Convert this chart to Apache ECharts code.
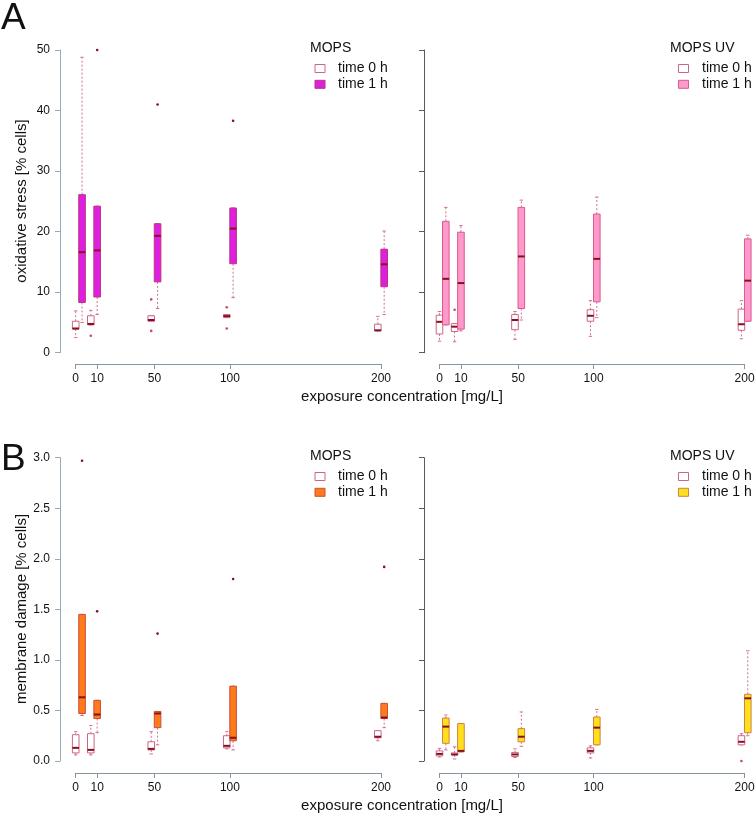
<!DOCTYPE html>
<html><head><meta charset="utf-8">
<script src="https://cdn.jsdelivr.net/npm/echarts@6/dist/echarts.min.js"></script>
<style>html,body{margin:0;padding:0;background:#fff}#c{width:756px;height:815px}</style>
</head><body><div id="c"></div><script>
// ---------- data ----------
const conc = [0, 10, 50, 100, 200];
const xTickLabels = ['0', '10', '50', '100', '200'];
// box stats: [lower whisker, Q1, median, Q3, upper whisker]
// A: oxidative stress [% cells]
const osMops0 = [[2.5,3.9,4.0,5.2,6.9],[4.6,4.6,4.75,6.1,7.0],[5.2,5.2,5.4,6.1,6.1],[5.8,5.8,6.05,6.3,6.3],[3.6,3.6,3.7,4.7,6.0]];
const osMops1 = [[5.0,8.3,16.6,26.1,48.8],[6.3,9.2,16.9,24.2,24.2],[7.3,11.7,19.3,21.3,21.3],[9.1,14.7,20.5,23.9,23.9],[6.3,10.9,14.6,17.1,20.1]];
const osMops0Out = [[10,2.8],[50,8.8],[50,3.6],[100,7.5],[100,4.0]];
const osMops1Out = [[10,50.0],[50,41.0],[100,38.3]];
const osUv0 = [[1.9,3.1,5.1,6.2,6.8],[1.8,3.5,4.3,4.8,4.8],[2.2,3.8,5.4,6.3,6.8],[2.7,5.2,6.1,7.1,8.6],[2.3,3.7,4.7,7.2,8.6]];
const osUv1 = [[4.6,4.6,12.2,21.7,24.0],[3.6,3.9,11.5,19.9,21.0],[5.4,7.3,15.9,24.0,25.2],[5.8,8.4,15.5,22.9,25.7],[5.2,5.2,11.9,18.8,19.4]];
const osUv0Out = [[10,7.1]];
const osUv1Out = [];
// B: membrane damage [% cells]
const mdMops0 = [[0.06,0.08,0.13,0.26,0.29],[0.06,0.08,0.11,0.27,0.35],[0.07,0.11,0.12,0.19,0.29],[0.12,0.13,0.15,0.25,0.29],[0.20,0.23,0.24,0.30,0.30]];
const mdMops1 = [[0.45,0.47,0.63,1.45,1.45],[0.28,0.42,0.46,0.60,0.60],[0.16,0.33,0.47,0.49,0.49],[0.11,0.20,0.23,0.74,0.74],[0.33,0.42,0.43,0.57,0.57]];
const mdMops0Out = [];
const mdMops1Out = [[0,2.97],[10,1.48],[50,1.26],[100,1.80],[200,1.92]];
const mdUv0 = [[0.04,0.05,0.07,0.10,0.125],[0.02,0.06,0.065,0.08,0.14],[0.035,0.045,0.065,0.085,0.12],[0.03,0.08,0.10,0.13,0.15],[0.16,0.16,0.19,0.25,0.27]];
const mdUv1 = [[0.11,0.175,0.34,0.425,0.455],[0.09,0.09,0.10,0.37,0.37],[0.145,0.19,0.24,0.32,0.485],[0.16,0.16,0.33,0.435,0.51],[0.25,0.28,0.62,0.66,1.09]];
const mdUv0Out = [[200,0.0]];
const mdUv1Out = [];

// ---------- layout / style ----------
const FONT = '"Liberation Sans", Arial, sans-serif';
const SHIFT = 2.1;          // x-units each box is shifted from its concentration
const BOX_W = 6.6, CAP_W = 3.4;
const MED = '#86101f';
const T0_BORDER = '#cc6688';
const WHISK = '#d07092';
const panels = [
  {left:75.7, top:50, width:305.3, height:302.7, ymax:50, yint:10, xOff:11.3, yOff:15.7, showY:true, yCol:'#98aab3',
   s0:osMops0, s1:osMops1, o0:osMops0Out, o1:osMops1Out, fill:'#e01ee0', border:'#b8357e'},
  {left:439.5, top:50, width:305.1, height:302.7, ymax:50, yint:10, xOff:11.3, yOff:15.5, showY:false, yCol:'#525c62',
   s0:osUv0, s1:osUv1, o0:osUv0Out, o1:osUv1Out, fill:'#ff99cc', border:'#d95b8c'},
  {left:75.7, top:457.7, width:305.3, height:303.3, ymax:3, yint:0.5, xOff:12, yOff:15.7, showY:true, yCol:'#98aab3',
   s0:mdMops0, s1:mdMops1, o0:mdMops0Out, o1:mdMops1Out, fill:'#ff7a1a', border:'#c9503a'},
  {left:439.5, top:457.7, width:305.1, height:303.3, ymax:3, yint:0.5, xOff:12, yOff:15.5, showY:false, yCol:'#525c62',
   s0:mdUv0, s1:mdUv1, o0:mdUv0Out, o1:mdUv1Out, fill:'#ffe01a', border:'#d08045'}
];
const X_AX = '#8696a0';
const tickPos = conc.map((c, i) => i === 0 ? c - SHIFT : (i === 1 ? c + SHIFT : c));

function makeBox(shift, fill, border) {
  return function (params, api) {
    const x = api.value(0) + shift;
    const c = v => api.coord([x, v]);
    const pLw = c(api.value(1)), pQ1 = c(api.value(2)), pMed = c(api.value(3)), pQ3 = c(api.value(4)), pUw = c(api.value(5));
    const cx = pQ1[0], hw = BOX_W / 2, cw = CAP_W / 2;
    const ch = [];
    const dash = {stroke: WHISK, lineWidth: 1, lineDash: [2, 2]};
    if (pUw[1] < pQ3[1] - 0.5) ch.push({type:'line', shape:{x1:cx, y1:pQ3[1], x2:cx, y2:pUw[1]}, style: dash});
    if (pLw[1] > pQ1[1] + 0.5) ch.push({type:'line', shape:{x1:cx, y1:pQ1[1], x2:cx, y2:pLw[1]}, style: dash});
    ch.push({type:'line', shape:{x1:cx-cw, y1:pUw[1], x2:cx+cw, y2:pUw[1]}, style:{stroke:WHISK, lineWidth:1}});
    ch.push({type:'line', shape:{x1:cx-cw, y1:pLw[1], x2:cx+cw, y2:pLw[1]}, style:{stroke:WHISK, lineWidth:1}});
    ch.push({type:'rect', shape:{x:cx-hw, y:pQ3[1], width:BOX_W, height:Math.max(1, pQ1[1]-pQ3[1])}, style:{fill:fill, stroke:border, lineWidth:1}});
    ch.push({type:'line', shape:{x1:cx-hw, y1:pMed[1], x2:cx+hw, y2:pMed[1]}, style:{stroke:MED, lineWidth:2}});
    return {type:'group', children: ch};
  };
}
function makeOut(shift, color) {
  return function (params, api) {
    const p = api.coord([api.value(0) + shift, api.value(1)]);
    return {type:'circle', shape:{cx:p[0], cy:p[1], r:1.3}, style:{fill:color}};
  };
}

const grid = [], xAxis = [], yAxis = [], series = [];
panels.forEach((p, i) => {
  grid.push({left:p.left, top:p.top, width:p.width, height:p.height, containLabel:false, outerBoundsMode:'none'});
  xAxis.push({type:'value', gridIndex:i, min:-SHIFT, max:200, offset:p.xOff,
    axisLine:{show:true, onZero:false, lineStyle:{color:X_AX, width:1}},
    axisTick:{show:true, length:5, customValues:tickPos, lineStyle:{color:X_AX}},
    axisLabel:{customValues:tickPos, fontSize:12, fontFamily:FONT, color:'#111', margin:9,
      formatter: v => { const k = tickPos.findIndex(t => Math.abs(t - v) < 1e-6); return k >= 0 ? xTickLabels[k] : ''; }},
    splitLine:{show:false}});
  yAxis.push({type:'value', gridIndex:i, min:0, max:p.ymax, interval:p.yint, offset:p.yOff,
    axisLine:{show:true, onZero:false, lineStyle:{color:p.yCol, width:1}},
    axisTick:{show:true, length:5, lineStyle:{color:p.yCol}},
    axisLabel:{show:p.showY, fontSize:12, fontFamily:FONT, color:'#111', margin:10,
      formatter: v => p.ymax === 3 ? v.toFixed(1) : String(v)},
    splitLine:{show:false}});
  const rows = s => conc.map((c, k) => [c].concat(s[k]));
  series.push({type:'custom', name:'time 0 h', xAxisIndex:i, yAxisIndex:i, clip:false, silent:true,
    renderItem:makeBox(-SHIFT, '#ffffff', T0_BORDER), data:rows(p.s0), encode:{x:0, y:[1,2,3,4,5]}});
  series.push({type:'custom', name:'time 1 h', xAxisIndex:i, yAxisIndex:i, clip:false, silent:true,
    renderItem:makeBox(SHIFT, p.fill, p.border), data:rows(p.s1), encode:{x:0, y:[1,2,3,4,5]}});
  series.push({type:'custom', xAxisIndex:i, yAxisIndex:i, clip:false, silent:true,
    renderItem:makeOut(-SHIFT, '#c04a72'), data:p.o0, encode:{x:0, y:1}});
  series.push({type:'custom', xAxisIndex:i, yAxisIndex:i, clip:false, silent:true,
    renderItem:makeOut(SHIFT, '#8b0a2a'), data:p.o1, encode:{x:0, y:1}});
});

function txt(x, y, text, size, align, extra) {
  return Object.assign({type:'text', x:x, y:y, silent:true, style:{text:text, fontSize:size, fontFamily:FONT, fill:'#111',
    align:align, verticalAlign:'middle', textAlign:align, textVerticalAlign:'middle'}}, extra || {});
}
const graphic = [];
graphic.push(txt(1, 19, 'A', 37, 'left'));
graphic.push(txt(1, 460, 'B', 37, 'left'));
graphic.push(txt(22, 201, 'oxidative stress [% cells]', 15, 'center', {rotation:Math.PI/2}));
graphic.push(txt(22, 609, 'membrane damage [% cells]', 15, 'center', {rotation:Math.PI/2}));
graphic.push(txt(402, 397, 'exposure concentration [mg/L]', 15, 'center'));
graphic.push(txt(402, 805.5, 'exposure concentration [mg/L]', 15, 'center'));
function legend(titleX, rectX, textX, ty, title, fill, border) {
  graphic.push(txt(titleX, ty, title, 14, 'left'));
  [[ty + 20.5, '#ffffff', T0_BORDER, 'time 0 h'], [ty + 36.3, fill, border, 'time 1 h']].forEach(r => {
    graphic.push({type:'rect', silent:true, shape:{x:rectX, y:r[0] - 4, width:10, height:8}, style:{fill:r[1], stroke:r[2], lineWidth:1}});
    graphic.push(txt(textX, r[0], r[3], 14, 'left'));
  });
}
legend(310, 315, 338, 48, 'MOPS', panels[0].fill, panels[0].border);
legend(670, 678.5, 702, 48, 'MOPS UV', panels[1].fill, panels[1].border);
legend(310, 315, 338, 456, 'MOPS', panels[2].fill, panels[2].border);
legend(670, 678.5, 702, 456, 'MOPS UV', panels[3].fill, panels[3].border);

const chart = echarts.init(document.getElementById('c'), null, {renderer:'canvas'});
chart.setOption({animation:false, backgroundColor:'#ffffff', grid, xAxis, yAxis, series, graphic});
</script></body></html>
